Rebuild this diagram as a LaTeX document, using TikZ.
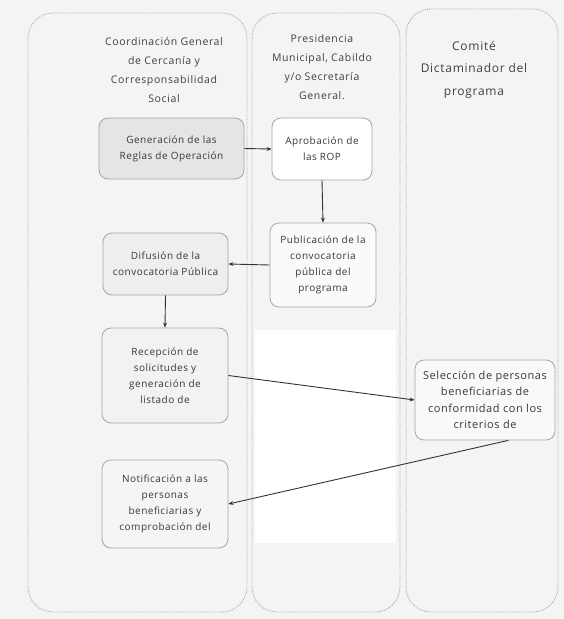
\documentclass[tikz,border=0pt]{standalone}
\usepackage{fontspec}
\setmainfont{Open Sans}
\newfontfamily\hdrfont[LetterSpace=6]{Open Sans}
\newfontfamily\boxfont[LetterSpace=5]{Open Sans}
\usetikzlibrary{arrows.meta,calc}
\tikzset{
  lane/.style={draw=gray!65, densely dotted, line width=0.9pt, rounded corners=25pt},
  hdr/.style={text=black!75, align=center, font=\hdrfont\fontsize{10.5}{19}\selectfont},
  hdrbig/.style={text=black!75, align=center, font=\hdrfont\fontsize{12}{22.5}\selectfont},
  stepbox/.style={draw=gray!70, line width=0.8pt, rounded corners=9pt, align=center,
    text=black!78, font=\boxfont\fontsize{10}{16}\selectfont, inner sep=0pt},
  flow/.style={draw=black!80, line width=0.9pt, -{Stealth[length=5pt,width=4pt]}}
}
\begin{document}
\begin{tikzpicture}[x=1pt,y=-1pt]
\useasboundingbox (0,0) rectangle (564,619);
\fill[gray!9] (0,0) rectangle (564,619);
\fill[white] (255,330) rectangle (396,543);
% lanes
\draw[lane] (28,13) rectangle (247,612);
\draw[lane] (252,13) rectangle (400,612);
\draw[lane] (406,9) rectangle (558,612);
% headers
\node[hdr] (h1) at (164,70.5) {Coordinación General\\de Cercanía y\\Corresponsabilidad\\Social};
\node[hdr] (h2) at (322,67) {Presidencia\\Municipal, Cabildo\\y/o Secretaría\\General.};
\node[hdrbig] (h3) at (474,69.5) {Comité\\Dictaminador del\\programa};
% boxes
\node[stepbox, fill=gray!20, minimum width=145pt, minimum height=61pt] (b1) at (171.5,148.5) {Generación de las\\Reglas de Operación};
\node[stepbox, fill=white, minimum width=100pt, minimum height=62pt] (b2) at (322,149) {Aprobación de\\las ROP};
\node[stepbox, fill=gray!4, minimum width=106pt, minimum height=84pt] (b3) at (323,265) {Publicación de la\\convocatoria\\pública del\\programa};
\node[stepbox, fill=gray!13, minimum width=125pt, minimum height=62pt] (b4) at (165.5,264) {Difusión de la\\convocatoria Pública};
\node[stepbox, fill=gray!10, minimum width=126pt, minimum height=95pt] (b5) at (165,375.5) {Recepción de\\solicitudes y\\generación de\\listado de};
\node[stepbox, fill=gray!5, minimum width=140pt, minimum height=80pt, font=\boxfont\fontsize{11}{16.5}\selectfont] (b6) at (485,400) {Selección de personas\\beneficiarias de\\conformidad con los\\criterios de};
\node[stepbox, fill=gray!8, minimum width=126pt, minimum height=88pt] (b7) at (165,504) {Notificación a las\\personas\\beneficiarias y\\comprobación del};
% connectors
\draw[flow] (b1.east) -- (b2.west);
\draw[flow] (b2.south) -- (b3.north);
\draw[flow] (b3.west) -- (b4.east);
\draw[flow] (b4.south) -- (b5.north);
\draw[flow] (b5.east) -- (b6.west);
\coordinate (c6) at ($(b6.south)!0.33!(b6.south east)$);
\draw[flow] (c6) -- (b7.east);
\end{tikzpicture}
\end{document}
